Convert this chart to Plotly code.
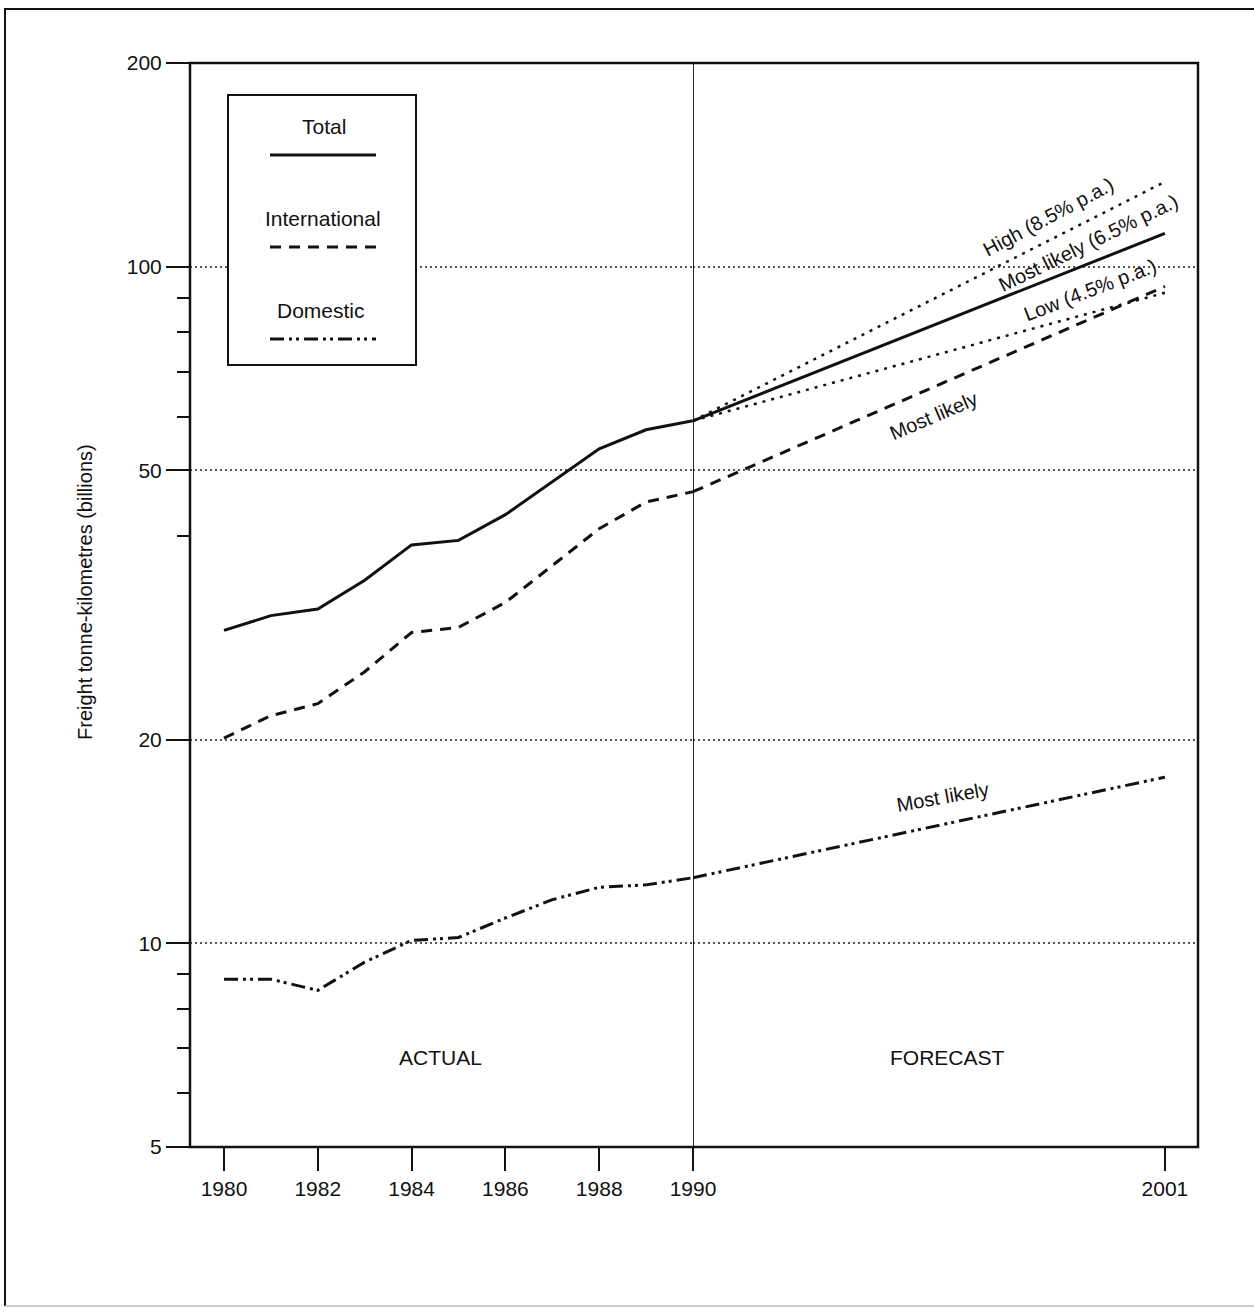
import plotly.graph_objects as go

# ---------------- data ----------------
years_actual = [1980, 1981, 1982, 1983, 1984, 1985, 1986, 1987, 1988, 1989, 1990]
total_actual = [29.0, 30.5, 31.2, 34.4, 38.8, 39.4, 43.0, 48.1, 53.8, 57.4, 59.2]
intl_actual = [20.1, 21.7, 22.6, 25.2, 28.8, 29.3, 31.9, 36.2, 41.0, 44.9, 46.5]
dom_actual = [8.85, 8.85, 8.52, 9.38, 10.1, 10.2, 10.9, 11.6, 12.1, 12.2, 12.5]

years_forecast = [1990, 2001]
total_forecast = [59.2, 112.0]
high_forecast = [59.2, 133.5]
low_forecast = [59.2, 91.5]
intl_forecast = [46.5, 93.5]
dom_forecast = [12.5, 17.6]

x_ticks_actual = [1980, 1982, 1984, 1986, 1988, 1990]
x_ticks_forecast = [2001]
y_ticks = [5, 10, 20, 50, 100, 200]
y_minor = [6, 7, 8, 9, 40, 60, 70, 80, 90]

# ---------------- layout geometry (reference pixels) ----------------
W, H = 1254, 1313
L, R, T, B = 190, 1198, 63, 1147
PW, PH = R - L, B - T
SPLIT = 693  # pixel of the 1990 break


def px(x):
    return (x - L) / PW


def py(y):
    return 1 - (y - T) / PH


FONT = "Liberation Sans, Arial, Helvetica, sans-serif"
BLACK = "#111111"
DOM_DASH = "14px,5px,3px,4px,3px,5px"
INT_DASH = "11px,8px"
DOT_DASH = "3px,6px"

fig = go.Figure()

# actual (left axis)
fig.add_trace(go.Scatter(x=years_actual, y=total_actual, mode="lines",
                         line=dict(color=BLACK, width=3), xaxis="x", yaxis="y"))
fig.add_trace(go.Scatter(x=years_actual, y=intl_actual, mode="lines",
                         line=dict(color=BLACK, width=3, dash=INT_DASH), xaxis="x", yaxis="y"))
fig.add_trace(go.Scatter(x=years_actual, y=dom_actual, mode="lines",
                         line=dict(color=BLACK, width=3, dash=DOM_DASH), xaxis="x", yaxis="y"))

# forecast (right axis)
fig.add_trace(go.Scatter(x=years_forecast, y=high_forecast, mode="lines",
                         line=dict(color=BLACK, width=2.5, dash=DOT_DASH), xaxis="x2", yaxis="y"))
fig.add_trace(go.Scatter(x=years_forecast, y=low_forecast, mode="lines",
                         line=dict(color=BLACK, width=2.5, dash=DOT_DASH), xaxis="x2", yaxis="y"))
fig.add_trace(go.Scatter(x=years_forecast, y=total_forecast, mode="lines",
                         line=dict(color=BLACK, width=3), xaxis="x2", yaxis="y"))
fig.add_trace(go.Scatter(x=years_forecast, y=intl_forecast, mode="lines",
                         line=dict(color=BLACK, width=3, dash=INT_DASH), xaxis="x2", yaxis="y"))
fig.add_trace(go.Scatter(x=years_forecast, y=dom_forecast, mode="lines",
                         line=dict(color=BLACK, width=3, dash=DOM_DASH), xaxis="x2", yaxis="y"))

split_p = px(SPLIT)
left_range = [1990 - (SPLIT - L) / 46.9, 1990]
right_range = [1990, 1990 + (R - SPLIT) / 42.9]

axis_common = dict(showgrid=False, zeroline=False, showline=False,
                   ticks="outside", ticklen=23, tickwidth=2, tickcolor=BLACK,
                   tickfont=dict(family=FONT, size=21, color=BLACK), fixedrange=True)

fig.update_layout(
    width=W, height=H,
    margin=dict(l=L, r=W - R, t=T, b=H - B),
    paper_bgcolor="white", plot_bgcolor="white",
    showlegend=False,
    xaxis=dict(domain=[0, split_p], range=left_range, anchor="y",
               tickmode="array", tickvals=x_ticks_actual,
               ticktext=[str(v) for v in x_ticks_actual], **axis_common),
    xaxis2=dict(domain=[split_p, 1], range=right_range, anchor="y",
                tickmode="array", tickvals=x_ticks_forecast,
                ticktext=[str(v) for v in x_ticks_forecast], **axis_common),
    yaxis=dict(type="log", range=[0.69897, 2.30103], anchor="x",
               tickmode="array", tickvals=y_ticks, ticktext=[str(v) for v in y_ticks],
               ticks="outside", ticklen=23, tickwidth=2, tickcolor=BLACK,
               tickfont=dict(family=FONT, size=21, color=BLACK),
               showgrid=True, gridcolor="#555555", gridwidth=1.5, griddash="2px,3px",
               zeroline=False, showline=False, fixedrange=True,
               minor=dict(tickmode="array", tickvals=y_minor, ticks="outside",
                          ticklen=12, tickwidth=2, tickcolor=BLACK, showgrid=False)),
)

shapes = []
# plot frame
shapes.append(dict(type="rect", xref="paper", yref="paper", x0=0, x1=1, y0=0, y1=1,
                   line=dict(color=BLACK, width=2.5), layer="above"))
# vertical divider at 1990
shapes.append(dict(type="line", xref="x2", yref="paper", x0=1990, x1=1990, y0=0, y1=1,
                   line=dict(color=BLACK, width=1.8)))
# outer page frame
shapes.append(dict(type="line", xref="paper", yref="paper",
                   x0=px(4), x1=px(1260), y0=py(9), y1=py(9), line=dict(color=BLACK, width=2)))
shapes.append(dict(type="line", xref="paper", yref="paper",
                   x0=px(5), x1=px(5), y0=py(9), y1=py(1306), line=dict(color=BLACK, width=2)))
shapes.append(dict(type="line", xref="paper", yref="paper",
                   x0=px(5), x1=px(1260), y0=py(1306), y1=py(1306), line=dict(color="#bbbbbb", width=1.5)))
# legend box
shapes.append(dict(type="rect", xref="paper", yref="paper",
                   x0=px(228), x1=px(416), y0=py(365), y1=py(95),
                   line=dict(color=BLACK, width=2), fillcolor="white", layer="above"))
# legend samples
for yy, dash in [(155, "solid"), (247, INT_DASH), (339, DOM_DASH)]:
    shapes.append(dict(type="line", xref="paper", yref="paper",
                       x0=px(270), x1=px(376), y0=py(yy), y1=py(yy),
                       line=dict(color=BLACK, width=3, dash=dash), layer="above"))
fig.update_layout(shapes=shapes)

ann = []


def text(x, y, s, size=21, angle=0):
    ann.append(dict(xref="paper", yref="paper", x=px(x), y=py(y), text=s, showarrow=False,
                    xanchor="center", yanchor="middle", textangle=angle,
                    font=dict(family=FONT, size=size, color=BLACK)))


text(324, 126, "Total")
text(323, 218, "International")
text(321, 310, "Domestic")
text(1048, 217, "High (8.5% p.a.)", 20, -28)
text(1088, 243, "Most likely (6.5% p.a.)", 20, -26)
text(1090, 290, "Low (4.5% p.a.)", 20, -21)
text(933, 416, "Most likely", 20, -23)
text(942, 797, "Most likely", 20, -10)
text(440, 1057, "ACTUAL")
text(947, 1057, "FORECAST")
text(85, 592, "Freight tonne-kilometres (billions)", 20, -90)
fig.update_layout(annotations=ann)

fig.write_html(
    "out.html",
    config={"displayModeBar": False},
    post_script="document.body.style.margin='0';document.body.style.overflow='hidden';",
)
